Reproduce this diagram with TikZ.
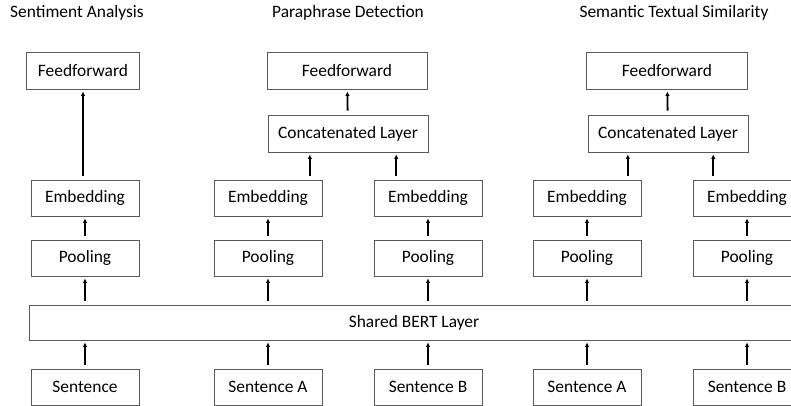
\documentclass[tikz,border=0pt]{standalone}
\usepackage{fontspec}
\setmainfont{Carlito}
\usepackage{tikz}
\usetikzlibrary{arrows.meta,positioning,calc}

\begin{document}
\begin{tikzpicture}[x=1pt, y=-1pt,
        layer/.style={draw=black!65, line width=0.8pt, minimum width=108pt,
          minimum height=36pt, inner sep=0pt,
          font=\fontsize{17.4}{20}\selectfont},
        wide/.style={layer, minimum width=160pt, minimum height=37pt},
        task/.style={font=\fontsize{17.4}{20}\selectfont, inner sep=0pt},
        flow/.style={-{Latex[length=4.5pt,width=4.5pt]}, line width=1.8pt,
          shorten <=4pt, shorten >=2pt},
      ]
        \useasboundingbox (0,0) rectangle (791,406);

        % task titles
        \node[task, anchor=west] (tSA) at (10, 13) {Sentiment Analysis};
        \node[task] (tPD) at (348, 13) {Paraphrase Detection};
        \node[task] (tSTS) at (674, 13) {Semantic Textual Similarity};

        % shared encoder
        \node[layer, minimum width=770pt, minimum height=35pt] (bert) at (414, 322.5) {Shared BERT Layer};

        % sentiment analysis
        \node[layer, minimum width=113pt, minimum height=37pt] (ffSA) at (83, 70.5) {Feedforward};
        \node[layer] (embSA) at (85, 198) {Embedding};
        \node[layer] (poolSA) at (85, 258) {Pooling};
        \node[layer] (sentSA) at (85, 387) {Sentence};

        % paraphrase detection
        \node[wide] (ffPD) at (347, 70.5) {Feedforward};
        \node[wide] (catPD) at (348, 133.5) {Concatenated Layer};
        \node[layer] (embPDa) at (268, 198) {Embedding};
        \node[layer] (embPDb) at (428, 198) {Embedding};
        \node[layer] (poolPDa) at (268, 258) {Pooling};
        \node[layer] (poolPDb) at (428, 258) {Pooling};
        \node[layer] (sentPDa) at (268, 387) {Sentence A};
        \node[layer] (sentPDb) at (428, 387) {Sentence B};

        % semantic textual similarity
        \node[wide, minimum width=161pt] (ffSTS) at (667, 70.5) {Feedforward};
        \node[wide] (catSTS) at (668, 133.5) {Concatenated Layer};
        \node[layer] (embSTSa) at (587, 198) {Embedding};
        \node[layer] (embSTSb) at (747, 198) {Embedding};
        \node[layer] (poolSTSa) at (587, 258) {Pooling};
        \node[layer] (poolSTSb) at (747, 258) {Pooling};
        \node[layer] (sentSTSa) at (587, 387) {Sentence A};
        \node[layer] (sentSTSb) at (747, 387) {Sentence B};

        % entry points on the concatenated layers
        \coordinate (inPDa) at ($(catPD.south west)!0.2625!(catPD.south east)$);
        \coordinate (inPDb) at ($(catPD.south west)!0.80!(catPD.south east)$);
        \coordinate (inSTSa) at ($(catSTS.south west)!0.25!(catSTS.south east)$);
        \coordinate (inSTSb) at ($(catSTS.south west)!0.78125!(catSTS.south east)$);

        \draw[flow] (sentSA) -- (sentSA |- bert.south);
        \draw[flow] (bert.north -| poolSA) -- (poolSA);
        \draw[flow] (poolSA) -- (embSA);
        \draw[flow] (embSA.north -| ffSA) -- (ffSA);

        \foreach \s in {PDa, PDb, STSa, STSb} {
          \draw[flow] (sent\s) -- (sent\s |- bert.south);
          \draw[flow] (bert.north -| pool\s) -- (pool\s);
          \draw[flow] (pool\s) -- (emb\s);
          \draw[flow] (emb\s.north -| in\s) -- (in\s);
        }
        \draw[flow] (catPD) -- (ffPD);
        \draw[flow] (catSTS) -- (ffSTS);
      \end{tikzpicture}
\end{document}
